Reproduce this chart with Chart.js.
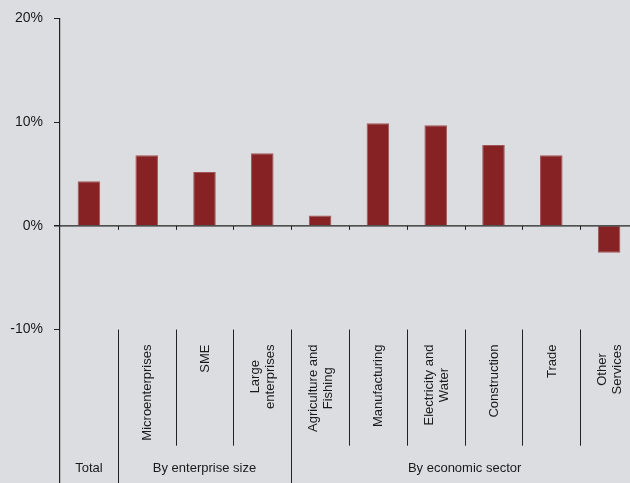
<!DOCTYPE html>
<html>
<head>
<meta charset="utf-8">
<script src="https://cdn.jsdelivr.net/npm/chart.js@4/dist/chart.umd.min.js"></script>
<style>
  html, body { margin: 0; padding: 0; background: #dcdde0; overflow: hidden; }
  #wrap { width: 640px; height: 483px; }
</style>
</head>
<body>
<div id="wrap"><canvas id="c" width="640" height="483"></canvas></div>
<script>
// ---- Data ----
const categories = ["Total", "Microenterprises", "SME", "Large enterprises", "Agriculture and Fishing",
  "Manufacturing", "Electricity and Water", "Construction", "Trade", "Other Services"];
const categoryLines = [[""], ["Microenterprises"], ["SME"], ["Large", "enterprises"], ["Agriculture and", "Fishing"],
  ["Manufacturing"], ["Electricity and", "Water"], ["Construction"], ["Trade"], ["Other", "Services"]];
const values = [4.3, 6.8, 5.2, 7.0, 1.0, 9.9, 9.7, 7.8, 6.8, -2.6];
const groupNames = ["Total", "By enterprise size", "By economic sector"];
const groupStart = [0, 1, 4];
const groupEnd = [0, 3, 9];
const yTicks = [-10, 0, 10, 20];

const FONT = '"Liberation Sans", Arial, sans-serif';
const TEXT = '#1a1a1a';
const LINE = '#222222';

const overlay = {
  id: 'overlay',
  beforeDraw(chart) {
    const ctx = chart.ctx;
    ctx.save();
    ctx.fillStyle = '#dcdde0';
    ctx.fillRect(0, 0, chart.width, chart.height);
    ctx.restore();
  },
  afterDatasetsDraw(chart) {
    const ctx = chart.ctx;
    const xs = chart.scales.x, ys = chart.scales.y;
    const area = chart.chartArea;
    const n = categories.length;
    const step = xs.getPixelForValue(1) - xs.getPixelForValue(0);
    const boundary = i => xs.getPixelForValue(i) - step / 2;
    const y0 = ys.getPixelForValue(0);
    ctx.save();
    // zero line
    ctx.strokeStyle = LINE;
    ctx.lineWidth = 1.2;
    ctx.beginPath();
    ctx.moveTo(area.left - 6, y0);
    ctx.lineTo(area.right, y0);
    ctx.stroke();
    // category ticks on zero line
    ctx.lineWidth = 1;
    for (let i = 1; i < n; i++) {
      const x = Math.round(boundary(i)) + 0.5;
      ctx.beginPath();
      ctx.moveTo(x, y0);
      ctx.lineTo(x, y0 + 4);
      ctx.stroke();
    }
    // separators in label area
    const ySepTop = ys.getPixelForValue(-10);
    const ySepShort = ys.getPixelForValue(-21.2);
    const groupBounds = groupStart.slice(1);
    for (let i = 1; i < n; i++) {
      const x = Math.round(boundary(i)) + 0.5;
      const full = groupBounds.includes(i);
      ctx.beginPath();
      ctx.moveTo(x, ySepTop);
      ctx.lineTo(x, full ? area.bottom : ySepShort);
      ctx.stroke();
    }
    // category labels (rotated)
    ctx.fillStyle = TEXT;
    ctx.font = '13px ' + FONT;
    const yTop = ys.getPixelForValue(-11.45);
    const lh = 15;
    for (let i = 0; i < n; i++) {
      const lines = categoryLines[i];
      if (!lines[0]) continue;
      const W = Math.max(...lines.map(l => ctx.measureText(l).width));
      ctx.save();
      ctx.translate(xs.getPixelForValue(i), yTop);
      ctx.rotate(-Math.PI / 2);
      ctx.textAlign = 'center';
      ctx.textBaseline = 'middle';
      lines.forEach((l, k) => {
        ctx.fillText(l, -W / 2, (k - (lines.length - 1) / 2) * lh + 1);
      });
      ctx.restore();
    }
    // group labels
    const yGroup = ys.getPixelForValue(-23.4);
    ctx.textAlign = 'center';
    ctx.textBaseline = 'middle';
    for (let g = 0; g < groupNames.length; g++) {
      const cx = (xs.getPixelForValue(groupStart[g]) + xs.getPixelForValue(groupEnd[g])) / 2;
      ctx.fillText(groupNames[g], cx, yGroup);
    }
    ctx.restore();
  }
};

new Chart(document.getElementById('c'), {
  type: 'bar',
  data: {
    labels: categories,
    datasets: [{
      data: values,
      backgroundColor: '#862223',
      borderColor: '#a05556',
      borderWidth: 1,
      borderSkipped: 'start',
      barPercentage: 0.39,
      categoryPercentage: 1.0
    }]
  },
  options: {
    responsive: false,
    animation: false,
    devicePixelRatio: 1,
    layout: { padding: { top: 18.5, right: 2, bottom: 0, left: 0 } },
    plugins: { legend: { display: false }, tooltip: { enabled: false } },
    scales: {
      x: { display: false },
      y: {
        min: -24.8,
        max: 20,
        afterBuildTicks(scale) { scale.ticks = yTicks.map(v => ({ value: v })); },
        afterFit(scale) { scale.width = 60; scale.paddingTop = 0; scale.paddingBottom = 0; },
        border: { display: true, color: LINE, width: 1.2 },
        grid: { drawOnChartArea: false, drawTicks: true, tickLength: 6, color: LINE, lineWidth: 1 },
        ticks: {
          padding: 11,
          color: TEXT,
          font: { family: FONT, size: 14 },
          callback: v => v + '%'
        }
      }
    }
  },
  plugins: [overlay]
});
</script>
</body>
</html>
